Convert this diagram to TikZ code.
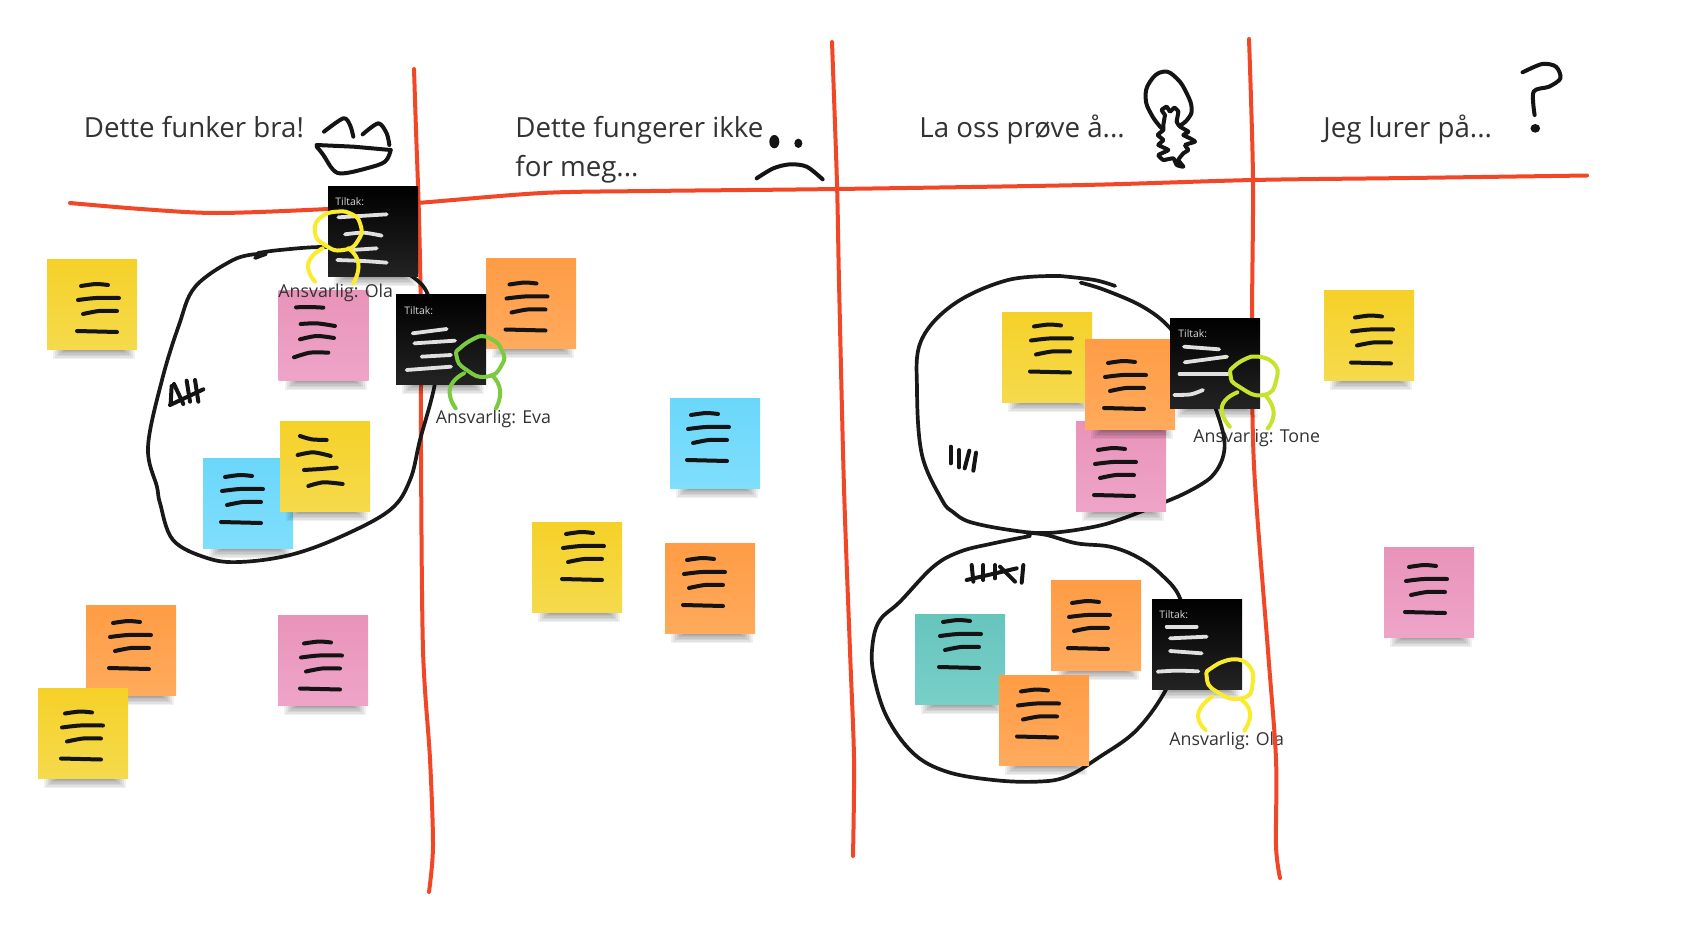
\documentclass[tikz,border=0pt]{standalone}
\usepackage{fontspec}
\setmainfont{Open Sans}
\definecolor{redl}{HTML}{F24726}
\definecolor{ylwA}{HTML}{F5D128}\definecolor{ylwB}{HTML}{F5DA4C}
\definecolor{orgA}{HTML}{FF9C45}\definecolor{orgB}{HTML}{FFAA5C}
\definecolor{pnkA}{HTML}{E993BA}\definecolor{pnkB}{HTML}{EEA4C8}
\definecolor{bluA}{HTML}{6AD7FA}\definecolor{bluB}{HTML}{80DEFD}
\definecolor{tealA}{HTML}{66C5BD}\definecolor{tealB}{HTML}{78CFC8}
\definecolor{blkA}{HTML}{000000}\definecolor{blkB}{HTML}{232323}
\definecolor{perY}{HTML}{FAEC2D}\definecolor{perG}{HTML}{7BCB41}\definecolor{perL}{HTML}{C6E32E}
\tikzset{
 x=0.5pt,y=-0.5pt,
 redline/.style={draw=redl,line width=2pt,line cap=round,line join=round},
 pen/.style={draw=black!92,line width=2pt,line cap=round,line join=round},
 thinpen/.style={draw=black!90,line width=1.85pt,line cap=round,line join=round},
 wpen/.style={draw=white!88!black,line width=1.9pt,line cap=round,line join=round},
 person/.style={line width=2pt,line cap=round,line join=round},
 note/.style={anchor=north west,minimum width=45pt,minimum height=45pt,inner sep=0pt,outer sep=0pt,draw=none},
 head/.style={font=\fontsize{13.85}{16}\selectfont,anchor=base west,text=black!80,inner sep=0pt},
 who/.style={font=\fontsize{8.9}{10}\selectfont,anchor=base west,text=black!80,inner sep=0pt},
 tilt/.style={font=\fontsize{5.2}{6}\selectfont,anchor=west,text=white!85!black,inner sep=0pt},
 z1/.style={shift={(280,60)},xscale=1/3,yscale=1/3},
 z2/.style={shift={(1060,40)},xscale=0.3444,yscale=1/3},
 z3/.style={shift={(860,500)},xscale=1/3,yscale=1/3},
 z4/.style={shift={(140,380)},xscale=1/3,yscale=1/3},
}
% name, x0, y0, colour stem
\newcommand{\stk}[4]{%
 \foreach \k in {0,...,7}{\fill[black,opacity=.06] (#2+6+2*\k,#3+87) rectangle (#2+88-2*\k,#3+100-1.4*\k);}
 \node[note,top color=#4A,bottom color=#4B] (#1) at (#2,#3) {};}
% x0,y0,dx,dy : the four pen strokes of a note
\newcommand{\stl}[4]{\begin{scope}[shift={(#1+#3,#2+#4)}]
 \draw[pen] plot[smooth] coordinates {(21,23) (36,21) (48,22)};
 \draw[pen] plot[smooth] coordinates {(18,37) (36,35) (59,35)};
 \draw[pen] plot[smooth] coordinates {(23,51) (39,48) (57,48)};
 \draw[pen] plot[smooth] coordinates {(17,68) (37,68.5) (57,69)};
\end{scope}}
\begin{document}
\begin{tikzpicture}
\useasboundingbox (0,0) rectangle (1700,931);
\fill[white] (0,0) rectangle (1700,931);

% labels lying under the pen lines
\node[who] (lTone) at (1193,442) {Ansvarlig: Tone};
\node[who] (lOla2) at (1169,745) {Ansvarlig: Ola};

% grid
\draw[redline] plot[smooth,tension=.5] coordinates {(70,203) (141,209) (217,213) (328,209) (417,203) (542,193) (650,191) (837,189) (1084,185) (1253,180) (1409,178) (1587,175.5)};
\draw[redline] plot[smooth,tension=.5] coordinates {(414,69) (416,130) (419,217) (421,325) (421,455) (423,650) (430,759) (433,846) (429,892)};
\draw[redline] plot[smooth,tension=.5] coordinates {(832,42) (837,184) (839,282) (844,488) (850,651) (854,759) (853,856)};
\draw[redline] plot[smooth,tension=.5] coordinates {(1249,39) (1253,179) (1252,325) (1254,466) (1268,651) (1276,759) (1276,846) (1280,878)};

% freehand rings
\draw[thinpen] plot[smooth,tension=.6] coordinates {(258,253) (280,250) (323,247) (370,250) (395,268) (413,277) (428,295) (437,340) (435,383) (420,440) (410,480) (390,510) (340,537) (290,555) (240,562) (207,558) (173,540) (160,503) (157,487) (148,447) (162,380) (179,325) (195,287) (233,260) (258,254)};
\draw[thinpen] (255,258) -- (266,254);
\begin{scope}[z2]
\draw[thinpen] plot[smooth,tension=.6] coordinates {(60,728) (130,750) (240,800) (320,865) (400,980) (450,1100) (478,1220) (440,1310) (340,1371)};
\draw[thinpen] plot[smooth,tension=.6] coordinates {(160,738) (100,720) (0,708)};
\end{scope}
\draw[thinpen] plot[smooth,tension=.6] coordinates {(1060,276) (1008,280) (954,304) (921,341) (917,390) (922,455) (942,500) (953,512) (970,522) (1010,530) (1047,533) (1093,527) (1127,517) (1177,497)};
\begin{scope}[z3]
\draw[thinpen] plot[smooth,tension=.6] coordinates {(510,108) (400,130) (300,155) (220,200) (120,305) (60,360) (38,430) (40,520) (80,650) (160,760) (260,815) (400,840) (530,845) (620,830) (720,770) (830,690) (920,565) (975,420) (960,295) (900,220) (830,170) (750,140) (650,130) (560,105) (500,98)};
\end{scope}

% notes, first column
\stk{n01}{47}{259}{ylw}\stl{47}{259}{13}{4}
\stk{n02}{278.5}{290}{pnk}
\begin{scope}[z1]
\draw[pen] plot[smooth] coordinates {(48,742) (90,741) (130,743)};
\draw[pen] plot[smooth] coordinates {(62,792) (110,790) (165,798)};
\draw[pen] plot[smooth] coordinates {(60,838) (110,828) (162,834)};
\draw[pen] plot[smooth] coordinates {(42,892) (90,878) (145,878)};
\end{scope}
\stk{n03}{203}{458}{blu}\stl{203}{458}{1}{-4}
\stk{n04}{280}{421}{ylw}
\begin{scope}[z4]
\draw[pen] plot[smooth] coordinates {(480,168) (515,178) (560,180)};
\draw[pen] plot[smooth] coordinates {(473,225) (520,217) (572,228)};
\draw[pen] plot[smooth] coordinates {(492,270) (540,267) (590,263)};
\draw[pen] plot[smooth] coordinates {(505,318) (550,307) (608,312)};
\end{scope}
\stk{n05}{86}{605}{org}\stl{86}{605}{6}{-5}
\stk{n06}{278}{615}{pnk}\stl{278}{615}{5}{5.5}
\stk{n07}{38}{688}{ylw}\stl{38}{688}{6}{2.5}

% notes, second column
\stk{n08}{486}{258}{org}\stl{486}{258}{2.5}{3.5}
\stk{n09}{670}{398}{blu}\stl{670}{398}{0}{-6}
\stk{n10}{532}{522}{ylw}\stl{532}{522}{13}{-11}
\stk{n11}{665}{543}{org}\stl{665}{543}{1}{-6}

% notes, third column
\stk{n12}{1002}{312}{ylw}\stl{1002}{312}{11}{-8.5}
\stk{n13}{1076}{421}{pnk}\stl{1076}{421}{1}{6}
\stk{n14}{1085}{339}{org}\stl{1085}{339}{2}{1}
\stk{n15}{915}{614}{teal}\stl{915}{614}{7}{-15}
\stk{n16}{1051}{580}{org}\stl{1051}{580}{0}{0}
\stk{n17}{999}{675}{org}\stl{999}{675}{1}{-6.5}

% notes, fourth column
\stk{n18}{1324}{290}{ylw}\stl{1324}{290}{10}{4.5}
\stk{n19}{1384}{547}{pnk}\stl{1384}{547}{4}{-3}

% black notes
\stk{b1}{328}{186}{blk}
\node[tilt] (t1) at (335,201.5) {Tiltak:};
\begin{scope}[z1]
\draw[wpen] (175,472) -- (320,463);
\draw[wpen] plot[smooth] coordinates {(195,523) (250,518) (305,527)};
\draw[wpen] (215,570) -- (290,565);
\draw[wpen] plot[smooth] coordinates {(172,600) (250,603) (320,608)};
\end{scope}
\stk{b2}{396}{294}{blk}
\node[tilt] (t2) at (404,310.5) {Tiltak:};
\begin{scope}[z1]
\draw[wpen] (398,820) -- (500,807);
\draw[wpen] (403,850) -- (525,842);
\draw[wpen] (425,890) -- (513,885);
\draw[wpen] (380,930) -- (513,920);
\end{scope}
\stk{b3}{1170}{318}{blk}
\node[tilt] (t3) at (1178,333.5) {Tiltak:};
\begin{scope}[z2]
\draw[wpen] (360,920) -- (462,928);
\draw[wpen] (362,967) -- (485,950);
\draw[wpen] (347,1002) -- (487,1002);
\draw[wpen] plot[smooth] coordinates {(332,1065) (380,1063) (415,1050)};
\end{scope}
\stk{b4}{1152}{599}{blk}
\node[tilt] (t4) at (1159,614.5) {Tiltak:};
\begin{scope}[z3]
\draw[wpen] (920,380) -- (1010,380);
\draw[wpen] (930,415) -- (1040,410);
\draw[wpen] (930,453) -- (1025,460);
\draw[wpen] plot[smooth] coordinates {(893,515) (950,512) (1015,514)};
\end{scope}

% labels above the notes
\node[who] (lOla1) at (278,297) {Ansvarlig: Ola};
\node[who] (lEva) at (435.5,423) {Ansvarlig: Eva};

% persons
\begin{scope}[z1]
\draw[person,perY] plot[smooth,tension=1] coordinates {(175,455) (125,470) (105,515) (135,555) (190,570) (235,540) (240,490) (210,460) (175,455)};
\draw[person,perY] plot[smooth,tension=1] coordinates {(128,565) (85,610) (105,665)};
\draw[person,perY] plot[smooth,tension=1] coordinates {(205,565) (235,610) (220,670)};
\draw[person,perG] plot[smooth,tension=1] coordinates {(595,830) (545,860) (530,890) (560,930) (620,950) (665,915) (665,870) (630,835) (595,830)};
\draw[person,perG] plot[smooth,tension=1] coordinates {(552,940) (510,985) (527,1045)};
\draw[person,perG] plot[smooth,tension=1] coordinates {(635,945) (660,990) (648,1045)};
\end{scope}
\begin{scope}[z2]
\draw[person,perL] plot[smooth,tension=1] coordinates {(555,950) (510,975) (495,1005) (520,1040) (590,1065) (628,1020) (615,965) (555,950)};
\draw[person,perL] plot[smooth,tension=1] coordinates {(515,1057) (470,1100) (493,1160)};
\draw[person,perL] plot[smooth,tension=1] coordinates {(595,1065) (620,1115) (603,1165)};
\end{scope}
\begin{scope}[z3]
\draw[person,perY] plot[smooth,tension=1] coordinates {(1105,480) (1060,500) (1040,530) (1070,575) (1145,595) (1178,550) (1160,490) (1105,480)};
\draw[person,perY] plot[smooth,tension=1] coordinates {(1057,590) (1015,640) (1037,690)};
\draw[person,perY] plot[smooth,tension=1] coordinates {(1145,600) (1170,640) (1153,692)};
\end{scope}

% tally marks
\begin{scope}[shift={(150,360)},xscale=1/3,yscale=1/3]
\draw[pen] (60,135) -- (160,88);
\draw[pen] (65,78) -- (62,130);
\draw[pen] (72,72) -- (100,132);
\draw[pen] (110,62) -- (120,125);
\draw[pen] (135,60) -- (145,125);
\end{scope}
\begin{scope}[shift={(930,430)},xscale=1/3,yscale=1/3]
\draw[pen] (62,50) -- (62,100);
\draw[pen] (87,60) -- (87,112);
\draw[pen] (118,62) -- (104,115);
\draw[pen] (138,68) -- (130,122);
\end{scope}
\begin{scope}[z3]
\draw[pen] (320,240) -- (470,205);
\draw[pen] (335,195) -- (340,245);
\draw[pen] (370,195) -- (370,240);
\draw[pen] (405,195) -- (405,235);
\draw[pen] (420,200) -- (465,245);
\draw[pen] (490,195) -- (485,248);
\end{scope}

% headings
\node[head] (h1) at (83.5,137) {Dette funker bra!};
\node[head] (h2a) at (515,137) {Dette fungerer ikke};
\node[head] (h2b) at (515,176) {for meg...};
\node[head] (h3) at (919,137) {La oss prøve å...};
\node[head] (h4) at (1323,137) {Jeg lurer på...};

% drawn faces and symbols
\begin{scope}[shift={(300,100)},xscale=1/3,yscale=1/3]
\draw[pen] plot[smooth,tension=.5] coordinates {(72,95) (130,55) (150,75) (160,110)};
\draw[pen] plot[smooth,tension=.5] coordinates {(188,103) (235,70) (260,100) (268,135)};
\draw[pen] (50,135) -- (160,140) -- (272,150);
\draw[pen] plot[smooth,tension=.6] coordinates {(272,150) (255,185) (200,205) (130,220) (100,210) (70,165) (50,140)};
\end{scope}
\begin{scope}[shift={(740,110)},xscale=1/3,yscale=1/3]
\draw[pen] plot[smooth] coordinates {(50,205) (100,175) (150,163) (200,170) (248,208)};
\fill[black!92] (103,95) ellipse[x radius=15,y radius=20];
\fill[black!92] (175,100) ellipse[x radius=12,y radius=14];
\end{scope}
\begin{scope}[shift={(1135,65)},xscale=1/3,yscale=1/3]
\draw[pen] plot[smooth,tension=.8] coordinates {(80,190) (50,150) (32,100) (45,50) (85,20) (125,40) (155,85) (170,130) (160,160) (138,180)};
\draw[pen] plot[smooth,tension=.25] coordinates {(90,150) (80,135) (95,125) (105,140) (118,128) (130,140) (125,170) (135,185) (160,200) (145,210) (165,220) (180,230) (150,240) (160,255) (145,265) (130,285) (145,305) (125,300) (115,280) (85,285) (70,270) (100,255) (70,240) (85,225) (68,210) (85,195) (85,180) (90,150)};
\end{scope}
\begin{scope}[z2]
\draw[pen] plot[smooth,tension=.5] coordinates {(1343,97) (1400,72) (1440,80) (1453,115) (1420,140) (1375,155) (1378,225)};
\fill[black!92] (1380,265) ellipse[x radius=14,y radius=13];
\end{scope}
\end{tikzpicture}
\end{document}
